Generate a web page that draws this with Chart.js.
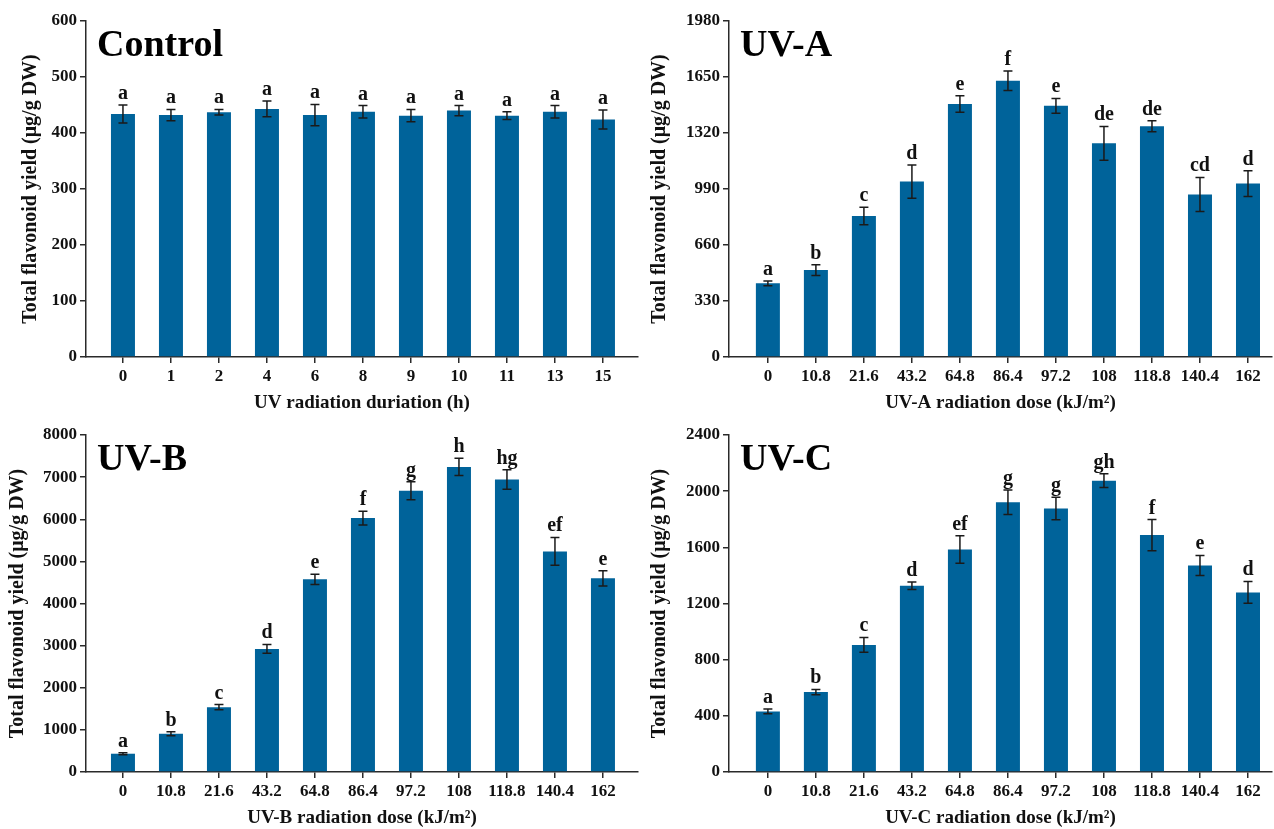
<!DOCTYPE html>
<html>
<head>
<meta charset="utf-8">
<script src="https://cdn.jsdelivr.net/npm/chart.js@4.4.1/dist/chart.umd.min.js"></script>
<style>
  body { margin: 0; background: #fff; }
  .panel { position: absolute; }
</style>
</head>
<body>
<div class="panel" style="left:0;top:0;width:640px;height:414px"><canvas id="c-control"></canvas></div>
<div class="panel" style="left:640px;top:0;width:634px;height:414px"><canvas id="c-uva"></canvas></div>
<div class="panel" style="left:0;top:414px;width:640px;height:415px"><canvas id="c-uvb"></canvas></div>
<div class="panel" style="left:640px;top:414px;width:634px;height:415px"><canvas id="c-uvc"></canvas></div>
<script>
// categories
const controlLabels = ['0', '1', '2', '4', '6', '8', '9', '10', '11', '13', '15'];
const doseLabels = ['0', '10.8', '21.6', '43.2', '64.8', '86.4', '97.2', '108', '118.8', '140.4', '162'];

// Control
const controlValues = [434, 432, 437, 443, 432, 438, 431, 440, 431, 438, 424];
const controlErrors = [16, 10, 5, 14, 19, 11, 11, 9, 7, 11, 17];
const controlLetters = ['a', 'a', 'a', 'a', 'a', 'a', 'a', 'a', 'a', 'a', 'a'];

// UV-A
const uvaValues = [434, 512, 831, 1034, 1491, 1628, 1480, 1259, 1360, 958, 1022];
const uvaErrors = [14, 32, 51, 98, 48, 57, 44, 100, 32, 100, 76];
const uvaLetters = ['a', 'b', 'c', 'd', 'e', 'f', 'e', 'de', 'de', 'cd', 'd'];

// UV-B
const uvbValues = [434, 908, 1540, 2922, 4573, 6027, 6675, 7243, 6943, 5237, 4597];
const uvbErrors = [25, 45, 60, 105, 120, 165, 213, 205, 230, 330, 180];
const uvbLetters = ['a', 'b', 'c', 'd', 'e', 'f', 'g', 'h', 'hg', 'ef', 'e'];

// UV-C
const uvcValues = [431, 569, 905, 1327, 1585, 1921, 1876, 2075, 1687, 1471, 1279];
const uvcErrors = [17, 19, 53, 27, 98, 88, 80, 49, 111, 71, 78];
const uvcLetters = ['a', 'b', 'c', 'd', 'ef', 'g', 'g', 'gh', 'f', 'e', 'd'];

// y-axis ranges
const controlTicks = { max: 600, step: 100 };
const uvaTicks = { max: 1980, step: 330 };
const uvbTicks = { max: 8000, step: 1000 };
const uvcTicks = { max: 2400, step: 400 };

const yTitle = 'Total flavonoid yield (\u03bcg/g DW)';
const SERIF = "'Liberation Serif', 'Times New Roman', serif";
const BAR_COLOR = '#00639a';
const AXIS_COLOR = '#2a2a2a';

// error bars, significance letters and the panel name
const annotatePlugin = {
    id: 'annotate',
    afterDatasetsDraw(chart) {
        const o = chart.options.plugins.annotate;
        const ctx = chart.ctx;
        const xs = chart.scales.x, ys = chart.scales.y;
        ctx.save();
        ctx.strokeStyle = '#1a1a1a';
        ctx.lineWidth = 1.5;
        o.values.forEach((v, i) => {
            const x = xs.getPixelForValue(i);
            const yTop = ys.getPixelForValue(v + o.errors[i]);
            const yBot = ys.getPixelForValue(v - o.errors[i]);
            ctx.beginPath();
            ctx.moveTo(x, yTop); ctx.lineTo(x, yBot);
            ctx.moveTo(x - 4.5, yTop); ctx.lineTo(x + 4.5, yTop);
            ctx.moveTo(x - 4.5, yBot); ctx.lineTo(x + 4.5, yBot);
            ctx.stroke();
            ctx.fillStyle = '#111';
            ctx.font = 'bold 20px ' + SERIF;
            ctx.textAlign = 'center';
            ctx.textBaseline = 'alphabetic';
            ctx.fillText(o.letters[i], x, yTop - 6);
        });
        const area = chart.chartArea;
        ctx.fillStyle = '#000';
        ctx.font = 'bold 38px ' + SERIF;
        ctx.textAlign = 'left';
        ctx.fillText(o.name, area.left + 11, area.top + 35);
        ctx.restore();
    }
};

function makePanel(id, cfg) {
    const ctx = document.getElementById(id).getContext('2d');
    return new Chart(ctx, {
        type: 'bar',
        data: {
            datasets: [{
                data: cfg.values.map((v, i) => ({ x: i, y: v })),
                backgroundColor: BAR_COLOR,
                borderWidth: 0,
                barPercentage: 0.5,
                categoryPercentage: 1.0
            }]
        },
        options: {
            responsive: true,
            maintainAspectRatio: false,
            animation: false,
            layout: { padding: { left: 0, top: 21, right: cfg.padRight, bottom: 0 } },
            scales: {
                x: {
                    type: 'linear',
                    offset: false,
                    min: cfg.xMin,
                    max: cfg.xMax,
                    afterBuildTicks: s => { s.ticks = cfg.labels.map((_, i) => ({ value: i })); },
                    afterFit: s => { s.height = 57; },
                    ticks: {
                        callback: v => cfg.labels[v],
                        color: '#111',
                        padding: 3,
                        maxRotation: 0,
                        autoSkip: false,
                        font: { family: SERIF, size: 17, weight: 'bold' }
                    },
                    grid: { offset: false, drawOnChartArea: false, drawTicks: true, tickLength: 6, color: AXIS_COLOR, lineWidth: 1.5 },
                    border: { display: true, color: AXIS_COLOR, width: 1.5 },
                    title: {
                        display: true,
                        text: cfg.xTitle,
                        color: '#111',
                        padding: { top: 0, bottom: 0 },
                        font: { family: SERIF, size: 19, weight: 'bold' }
                    }
                },
                y: {
                    min: 0,
                    max: cfg.yTicks.max,
                    afterFit: s => { s.width = cfg.yWidth; },
                    ticks: {
                        stepSize: cfg.yTicks.step,
                        callback: v => String(v),
                        color: '#111',
                        padding: 3,
                        font: { family: SERIF, size: 17, weight: 'bold' }
                    },
                    grid: { drawOnChartArea: false, drawTicks: true, tickLength: 6, color: AXIS_COLOR, lineWidth: 1.5 },
                    border: { display: true, color: AXIS_COLOR, width: 1.5 },
                    title: {
                        display: true,
                        text: yTitle,
                        color: '#111',
                        padding: { top: cfg.yTitlePad, bottom: 0 },
                        font: { family: SERIF, size: 20, weight: 'bold' }
                    }
                }
            },
            plugins: {
                legend: { display: false },
                tooltip: { enabled: false },
                annotate: { values: cfg.values, errors: cfg.errors, letters: cfg.letters, name: cfg.name }
            }
        },
        plugins: [annotatePlugin]
    });
}

makePanel('c-control', {
    name: 'Control', labels: controlLabels, values: controlValues, errors: controlErrors, letters: controlLetters,
    yTicks: controlTicks, xTitle: 'UV radiation duriation (h)',
    yWidth: 86, yTitlePad: 19, padRight: 2, xMin: -0.77, xMax: 10.73
});
makePanel('c-uva', {
    name: 'UV-A', labels: doseLabels, values: uvaValues, errors: uvaErrors, letters: uvaLetters,
    yTicks: uvaTicks, xTitle: 'UV-A radiation dose (kJ/m\u00b2)',
    yWidth: 89, yTitlePad: 8, padRight: 2, xMin: -0.81, xMax: 10.5
});
makePanel('c-uvb', {
    name: 'UV-B', labels: doseLabels, values: uvbValues, errors: uvbErrors, letters: uvbLetters,
    yTicks: uvbTicks, xTitle: 'UV-B radiation dose (kJ/m\u00b2)',
    yWidth: 86, yTitlePad: 6, padRight: 2, xMin: -0.77, xMax: 10.73
});
makePanel('c-uvc', {
    name: 'UV-C', labels: doseLabels, values: uvcValues, errors: uvcErrors, letters: uvcLetters,
    yTicks: uvcTicks, xTitle: 'UV-C radiation dose (kJ/m\u00b2)',
    yWidth: 89, yTitlePad: 8, padRight: 2, xMin: -0.81, xMax: 10.5
});
</script>
</body>
</html>
